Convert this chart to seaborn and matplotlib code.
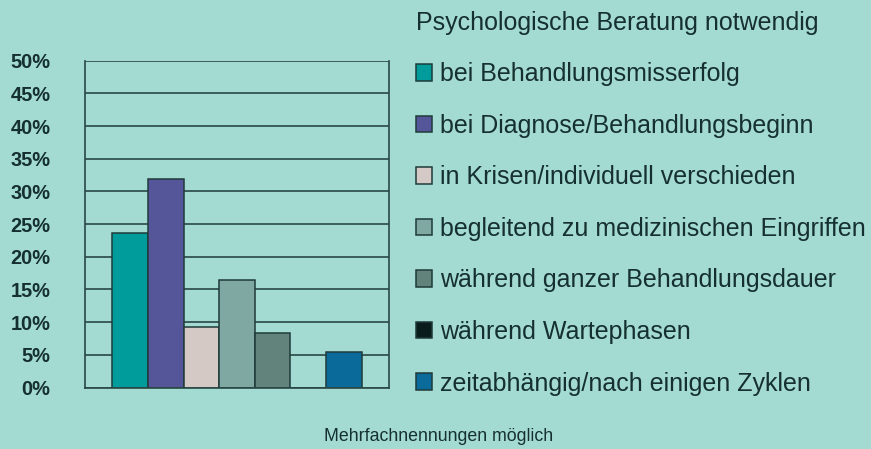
import pandas as pd
import matplotlib
matplotlib.use("Agg")
import matplotlib.pyplot as plt
import seaborn as sns

## Data
groups = ["bei Behandlungsmisserfolg",
          "bei Diagnose/Behandlungsbeginn",
          "in Krisen/individuell verschieden",
          "begleitend zu medizinischen Eingriffen",
          "während ganzer Behandlungsdauer",
          "während Wartephasen",
          "zeitabhängig/nach einigen Zyklen"]
values = [23.7, 31.9, 9.2, 16.4, 8.3, 0.0, 5.4]
colors = ["#009b9b", "#55559a", "#d4c9c4", "#80a8a3", "#62827c", "#0b1c1c", "#0a6a9a"]
yticks = [0, 5, 10, 15, 20, 25, 30, 35, 40, 45, 50]
legend_title = "Psychologische Beratung notwendig"
note = "Mehrfachnennungen möglich"

bg = "#a3dad2"
ink = "#15302e"
line = "#2a4846"

df = pd.DataFrame({"cat": ["alle"] * len(groups), "group": groups, "value": values})

sns.set_style("white")
plt.rcParams["font.family"] = ["Liberation Sans", "DejaVu Sans"]

fig = plt.figure(figsize=(8.71, 4.49), dpi=100, facecolor=bg)
ax = fig.add_axes([85 / 871, 61.5 / 449, 304 / 871, 326.8 / 449])
ax.set_facecolor(bg)

sns.barplot(data=df, x="cat", y="value", hue="group", hue_order=groups,
            palette=colors, width=0.82, edgecolor="#1f3b39", linewidth=1.1,
            saturation=1, ax=ax)

## axes styling
ax.set_xlim(-0.5, 0.5)
ax.set_ylim(0, 50)
ax.set_yticks(yticks)
ax.set_yticklabels([f"{t}%" for t in yticks], fontsize=14.4, fontweight="bold", color=ink)
ax.set_xticks([-0.5, 0.5])
ax.set_xticklabels(["", ""])
ax.set_xlabel("")
ax.set_ylabel("")
ax.tick_params(axis="both", length=5, width=1.2, color=line)
ax.tick_params(axis="y", pad=20)
ax.yaxis.grid(True, color=line, linewidth=1.2)
ax.set_axisbelow(True)
for side in ["left", "right", "bottom"]:
    ax.spines[side].set_visible(True)
    ax.spines[side].set_color(line)
    ax.spines[side].set_linewidth(1.2)
ax.spines["top"].set_visible(False)

## legend on the right side of the figure
handles, labels = ax.get_legend_handles_labels()
ax.get_legend().remove()
for h in handles:
    h.set_edgecolor("#1f3b39")
leg = fig.legend(handles, labels, title=legend_title, loc="upper left",
                 bbox_to_anchor=(416 / 871, 1 - 11 / 449), frameon=False,
                 fontsize=18, title_fontsize=18, alignment="left",
                 handlelength=0.64, handleheight=0.64, handletextpad=0.32,
                 labelspacing=1.1, borderpad=0, borderaxespad=0)
for t in leg.get_texts():
    t.set_color(ink)
leg.get_title().set_color(ink)

fig.text(0.503, 8 / 449, note, ha="center", va="baseline", fontsize=12.8, color=ink)

fig.savefig("out.png", dpi=100, facecolor=bg)
